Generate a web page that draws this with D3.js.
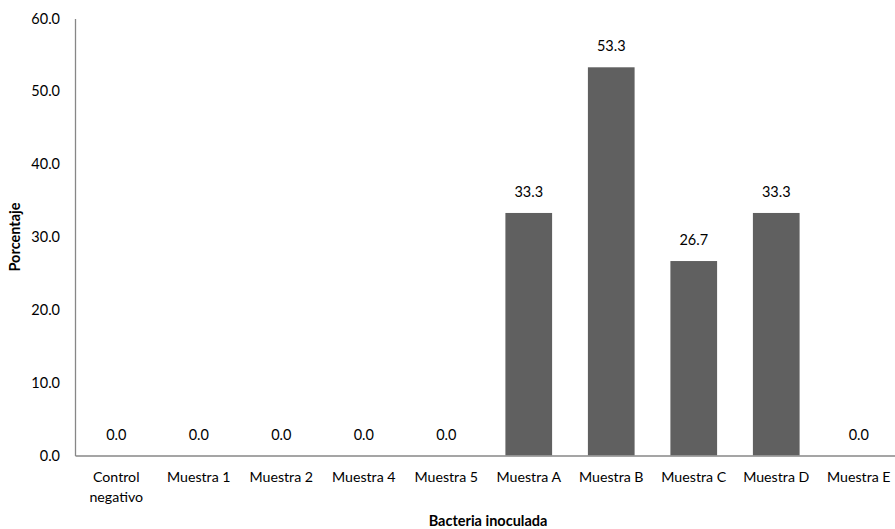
<!DOCTYPE html>
<html>
<head>
<meta charset="utf-8">
<script src="https://cdn.jsdelivr.net/npm/d3@7"></script>
<style>
  html, body { margin: 0; padding: 0; background: #fff; }
  svg { display: block; font-family: Lato, "Open Sans", sans-serif; }
</style>
</head>
<body>
<svg id="chart" width="895" height="529"></svg>
<script>
// Porcentaje por bacteria inoculada
const categories = ["Control\nnegativo", "Muestra 1", "Muestra 2", "Muestra 4", "Muestra 5",
                    "Muestra A", "Muestra B", "Muestra C", "Muestra D", "Muestra E"];
const values = [0.0, 0.0, 0.0, 0.0, 0.0, 33.3, 53.3, 26.7, 33.3, 0.0];
const yTicks = [0, 10, 20, 30, 40, 50, 60];

const svg = d3.select("#chart");
const plotLeft = 75, plotRight = 900, plotTop = 18.5, plotBottom = 455.5;

const x = d3.scaleBand().domain(categories).range([plotLeft, plotRight]).paddingInner(0.434).paddingOuter(0.217);
const y = d3.scaleLinear().domain([0, 60]).range([plotBottom, plotTop]);

// Y axis: line and tick labels, no tick marks
const yAxis = svg.append("g").attr("transform", `translate(${plotLeft},0)`)
  .call(d3.axisLeft(y).tickValues(yTicks).tickSize(0).tickPadding(15).tickFormat(d3.format(".1f")));
yAxis.select(".domain").attr("stroke", "#878787").attr("stroke-width", 1.3);
yAxis.selectAll("text").attr("font-size", 14.5).attr("fill", "#000").attr("font-family", "Lato, sans-serif");

// Bars
svg.append("g").selectAll("rect").data(values).join("rect")
  .attr("x", (d, i) => x(categories[i]))
  .attr("width", x.bandwidth())
  .attr("y", d => y(d))
  .attr("height", d => y(0) - y(d))
  .attr("fill", "#606060");

// X axis: line and category labels
const xAxis = svg.append("g").attr("transform", `translate(0,${plotBottom})`)
  .call(d3.axisBottom(x).tickSize(0).tickFormat(""));
xAxis.select(".domain").attr("stroke", "#878787").attr("stroke-width", 1.3);
xAxis.selectAll(".tick").each(function(d) {
  const t = d3.select(this).append("text")
    .attr("fill", "#000").attr("font-size", 14.2).attr("text-anchor", "middle")
    .attr("font-family", "Lato, sans-serif");
  d.split("\n").forEach((line, k) => {
    t.append("tspan").attr("x", 0).attr("y", 26 + k * 20).text(line);
  });
});

// Value labels
svg.append("g").selectAll("text").data(values).join("text")
  .attr("x", (d, i) => x(categories[i]) + x.bandwidth() / 2)
  .attr("y", d => y(d) - 16)
  .attr("text-anchor", "middle")
  .attr("font-size", 14.5)
  .attr("fill", "#000")
  .text(d => d3.format(".1f")(d));

// Axis titles
svg.append("text")
  .attr("x", 488).attr("y", 526)
  .attr("text-anchor", "middle").attr("font-size", 14.5).attr("font-weight", "bold")
  .text("Bacteria inoculada");

svg.append("text")
  .attr("transform", `translate(20,${(plotTop + plotBottom) / 2}) rotate(-90)`)
  .attr("text-anchor", "middle").attr("font-size", 14.5).attr("font-weight", "bold")
  .text("Porcentaje");
</script>
</body>
</html>
